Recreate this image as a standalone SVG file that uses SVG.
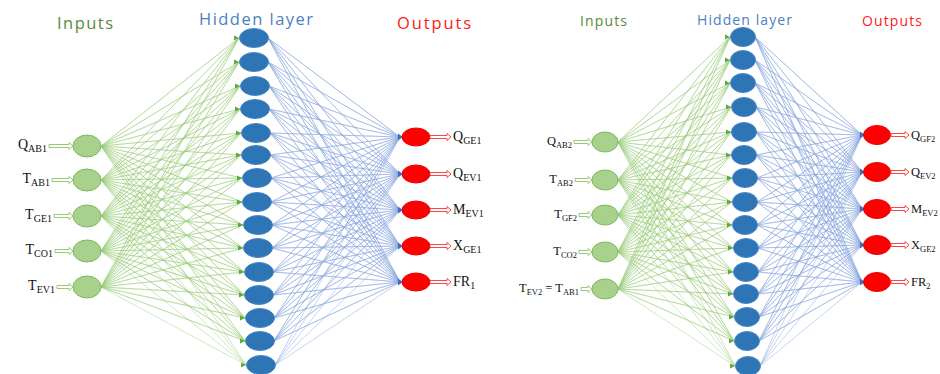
<svg xmlns="http://www.w3.org/2000/svg" xmlns:xlink="http://www.w3.org/1999/xlink" width="940" height="374" viewBox="0 0 940 374">
<style>
.t{font-family:"Open Sans",Lato,"Liberation Sans",sans-serif}
.ti{fill:#5a8a3a}.th{fill:#4a80c2}.to{fill:#ff1a1a}
.g{fill:none;stroke:#9ccd7c;stroke-width:0.55;stroke-linejoin:round;opacity:.85}
.b{fill:none;stroke:#8aa8de;stroke-width:0.55;stroke-linejoin:round;opacity:.9}
.in{fill:#a9d18e;stroke:#7db95a;stroke-width:1}
.hid{fill:#2e75b6;stroke:#4a88c8;stroke-width:1}
.out{fill:#ff0000;stroke:#e80000;stroke-width:1}
.ia{fill:#fff;stroke:#8cc468;stroke-width:0.9}
.oa{fill:#fff;stroke:#ff3030;stroke-width:0.9}
.l1{font-family:"Liberation Serif","Times New Roman",serif;font-size:14px;fill:#111}
.s1{font-size:10px}
.l2{font-family:"Liberation Serif","Times New Roman",serif;font-size:12.5px;fill:#111}
.s2{font-size:8.5px}
.ga{fill:#5fa83a}.ba{fill:#3b6fc6}
</style>
<defs>
<path id="gah" d="M-5,-2.5L0,0L-5,2.5Z"/>
<path id="bah" d="M-4,-3.5L1,0L-4,3.5Z"/>
</defs>
<g id="titles">
<text class="t ti" x="57" y="29" font-size="16.5" textLength="56" lengthAdjust="spacing">Inputs</text>
<text class="t th" x="199" y="25" font-size="16.5" textLength="114" lengthAdjust="spacing">Hidden layer</text>
<text class="t to" x="397" y="29" font-size="16.5" textLength="74" lengthAdjust="spacing">Outputs</text>
<text class="t ti" x="580" y="26" font-size="14" textLength="47" lengthAdjust="spacing">Inputs</text>
<text class="t th" x="697" y="25" font-size="14" textLength="95" lengthAdjust="spacing">Hidden layer</text>
<text class="t to" x="862" y="26" font-size="14" textLength="60" lengthAdjust="spacing">Outputs</text>
</g>
<g id="connectors">
<path class="g" d="M101 146L239 38 101 146 239 62 101 146 240 86 101 146 240 109 101 146 241 133 101 146 241 155 101 146 242 178 101 146 242 202 101 146 243 225 101 146 243 248 101 146 244 272 101 146 244 295 101 146 245 318 101 146 245 341 101 146 246 365"/>
<path class="g" d="M101 180L239 38 101 180 239 62 101 180 240 86 101 180 240 109 101 180 241 133 101 180 241 155 101 180 242 178 101 180 242 202 101 180 243 225 101 180 243 248 101 180 244 272 101 180 244 295 101 180 245 318 101 180 245 341 101 180 246 365"/>
<path class="g" d="M101 216L239 38 101 216 239 62 101 216 240 86 101 216 240 109 101 216 241 133 101 216 241 155 101 216 242 178 101 216 242 202 101 216 243 225 101 216 243 248 101 216 244 272 101 216 244 295 101 216 245 318 101 216 245 341 101 216 246 365"/>
<path class="g" d="M101 251L239 38 101 251 239 62 101 251 240 86 101 251 240 109 101 251 241 133 101 251 241 155 101 251 242 178 101 251 242 202 101 251 243 225 101 251 243 248 101 251 244 272 101 251 244 295 101 251 245 318 101 251 245 341 101 251 246 365"/>
<path class="g" d="M101 287L239 38 101 287 239 62 101 287 240 86 101 287 240 109 101 287 241 133 101 287 241 155 101 287 242 178 101 287 242 202 101 287 243 225 101 287 243 248 101 287 244 272 101 287 244 295 101 287 245 318 101 287 245 341 101 287 246 365"/>
<path class="b" d="M400 137L268 38 400 137 268 62 400 137 269 86 400 137 269 109 400 137 270 133 400 137 270 155 400 137 271 178 400 137 271 202 400 137 272 225 400 137 272 248 400 137 273 272 400 137 273 295 400 137 274 318 400 137 274 341 400 137 275 365"/>
<path class="b" d="M400 174L268 38 400 174 268 62 400 174 269 86 400 174 269 109 400 174 270 133 400 174 270 155 400 174 271 178 400 174 271 202 400 174 272 225 400 174 272 248 400 174 273 272 400 174 273 295 400 174 274 318 400 174 274 341 400 174 275 365"/>
<path class="b" d="M400 210L268 38 400 210 268 62 400 210 269 86 400 210 269 109 400 210 270 133 400 210 270 155 400 210 271 178 400 210 271 202 400 210 272 225 400 210 272 248 400 210 273 272 400 210 273 295 400 210 274 318 400 210 274 341 400 210 275 365"/>
<path class="b" d="M400 246L268 38 400 246 268 62 400 246 269 86 400 246 269 109 400 246 270 133 400 246 270 155 400 246 271 178 400 246 271 202 400 246 272 225 400 246 272 248 400 246 273 272 400 246 273 295 400 246 274 318 400 246 274 341 400 246 275 365"/>
<path class="b" d="M400 282L268 38 400 282 268 62 400 282 269 86 400 282 269 109 400 282 270 133 400 282 270 155 400 282 271 178 400 282 271 202 400 282 272 225 400 282 272 248 400 282 273 272 400 282 273 295 400 282 274 318 400 282 274 341 400 282 275 365"/>
<path class="g" d="M618 142L730 37 618 142 730 60 618 142 730 83 618 142 731 107 618 142 731 132 618 142 731 155 618 142 732 178 618 142 732 202 618 142 732 225 618 142 733 248 618 142 733 272 618 142 733 294 618 142 734 317 618 142 734 341 618 142 735 366"/>
<path class="g" d="M618 180L730 37 618 180 730 60 618 180 730 83 618 180 731 107 618 180 731 132 618 180 731 155 618 180 732 178 618 180 732 202 618 180 732 225 618 180 733 248 618 180 733 272 618 180 733 294 618 180 734 317 618 180 734 341 618 180 735 366"/>
<path class="g" d="M618 215L730 37 618 215 730 60 618 215 730 83 618 215 731 107 618 215 731 132 618 215 731 155 618 215 732 178 618 215 732 202 618 215 732 225 618 215 733 248 618 215 733 272 618 215 733 294 618 215 734 317 618 215 734 341 618 215 735 366"/>
<path class="g" d="M618 252L730 37 618 252 730 60 618 252 730 83 618 252 731 107 618 252 731 132 618 252 731 155 618 252 732 178 618 252 732 202 618 252 732 225 618 252 733 248 618 252 733 272 618 252 733 294 618 252 734 317 618 252 734 341 618 252 735 366"/>
<path class="g" d="M618 289L730 37 618 289 730 60 618 289 730 83 618 289 731 107 618 289 731 132 618 289 731 155 618 289 732 178 618 289 732 202 618 289 732 225 618 289 733 248 618 289 733 272 618 289 733 294 618 289 734 317 618 289 734 341 618 289 735 366"/>
<path class="b" d="M862 135L755 37 862 135 755 60 862 135 755 83 862 135 756 107 862 135 756 132 862 135 756 155 862 135 757 178 862 135 757 202 862 135 757 225 862 135 758 248 862 135 758 272 862 135 758 294 862 135 759 317 862 135 759 341 862 135 760 366"/>
<path class="b" d="M862 172L755 37 862 172 755 60 862 172 755 83 862 172 756 107 862 172 756 132 862 172 756 155 862 172 757 178 862 172 757 202 862 172 757 225 862 172 758 248 862 172 758 272 862 172 758 294 862 172 759 317 862 172 759 341 862 172 760 366"/>
<path class="b" d="M862 209L755 37 862 209 755 60 862 209 755 83 862 209 756 107 862 209 756 132 862 209 756 155 862 209 757 178 862 209 757 202 862 209 757 225 862 209 758 248 862 209 758 272 862 209 758 294 862 209 759 317 862 209 759 341 862 209 760 366"/>
<path class="b" d="M862 245L755 37 862 245 755 60 862 245 755 83 862 245 756 107 862 245 756 132 862 245 756 155 862 245 757 178 862 245 757 202 862 245 757 225 862 245 758 248 862 245 758 272 862 245 758 294 862 245 759 317 862 245 759 341 862 245 760 366"/>
<path class="b" d="M862 282L755 37 862 282 755 60 862 282 755 83 862 282 756 107 862 282 756 132 862 282 756 155 862 282 757 178 862 282 757 202 862 282 757 225 862 282 758 248 862 282 758 272 862 282 758 294 862 282 759 317 862 282 759 341 862 282 760 366"/>
<g class="ga">
<use href="#gah" x="239" y="38"/><use href="#gah" x="239" y="62"/><use href="#gah" x="240" y="86"/><use href="#gah" x="240" y="109"/><use href="#gah" x="241" y="133"/><use href="#gah" x="241" y="155"/><use href="#gah" x="242" y="178"/><use href="#gah" x="242" y="202"/><use href="#gah" x="243" y="225"/><use href="#gah" x="243" y="248"/><use href="#gah" x="244" y="272"/><use href="#gah" x="244" y="295"/><use href="#gah" x="245" y="318"/><use href="#gah" x="245" y="341"/><use href="#gah" x="246" y="365"/>
<use href="#gah" x="730" y="37"/><use href="#gah" x="730" y="60"/><use href="#gah" x="730" y="83"/><use href="#gah" x="731" y="107"/><use href="#gah" x="731" y="132"/><use href="#gah" x="731" y="155"/><use href="#gah" x="732" y="178"/><use href="#gah" x="732" y="202"/><use href="#gah" x="732" y="225"/><use href="#gah" x="733" y="248"/><use href="#gah" x="733" y="272"/><use href="#gah" x="733" y="294"/><use href="#gah" x="734" y="317"/><use href="#gah" x="734" y="341"/><use href="#gah" x="735" y="366"/>
</g>
<g class="ba">
<use href="#bah" x="402" y="137"/><use href="#bah" x="402" y="174"/><use href="#bah" x="402" y="210"/><use href="#bah" x="402" y="246"/><use href="#bah" x="402" y="282"/>
<use href="#bah" x="864" y="135"/><use href="#bah" x="864" y="172"/><use href="#bah" x="864" y="209"/><use href="#bah" x="864" y="245"/><use href="#bah" x="864" y="282"/>
</g>
</g>
<!-- Left panel inputs -->
<g id="in1a"><ellipse class="in" cx="87" cy="146" rx="14" ry="11"/><path class="ia" d="M49 144.5H69V142.5L73 146L69 149.5V147.5H49Z"/><text class="l1" x="47" y="149" text-anchor="end">Q<tspan class="s1" dy="3">AB1</tspan></text></g>
<g id="in2a"><ellipse class="in" cx="87" cy="180" rx="14" ry="11"/><path class="ia" d="M52 178.5H69V176.5L73 180L69 183.5V181.5H52Z"/><text class="l1" x="50" y="183" text-anchor="end">T<tspan class="s1" dy="3">AB1</tspan></text></g>
<g id="in3a"><ellipse class="in" cx="87" cy="216" rx="14" ry="11"/><path class="ia" d="M54 214.5H69V212.5L73 216L69 219.5V217.5H54Z"/><text class="l1" x="52" y="219" text-anchor="end">T<tspan class="s1" dy="3">GE1</tspan></text></g>
<g id="in4a"><ellipse class="in" cx="87" cy="251" rx="14" ry="11"/><path class="ia" d="M55 249.5H69V247.5L73 251L69 254.5V252.5H55Z"/><text class="l1" x="53" y="254" text-anchor="end">T<tspan class="s1" dy="3">CO1</tspan></text></g>
<g id="in5a"><ellipse class="in" cx="87" cy="287" rx="14" ry="11"/><path class="ia" d="M57 285.5H69V283.5L73 287L69 290.5V288.5H57Z"/><text class="l1" x="55" y="290" text-anchor="end">T<tspan class="s1" dy="3">EV1</tspan></text></g>
<!-- Left hidden -->
<g id="hidden-a">
<g id="h1a"><ellipse class="hid" cx="254" cy="38" rx="14.5" ry="9.5"/></g>
<g id="h2a"><ellipse class="hid" cx="254" cy="62" rx="14.5" ry="9.5"/></g>
<g id="h3a"><ellipse class="hid" cx="255" cy="86" rx="14.5" ry="9.5"/></g>
<g id="h4a"><ellipse class="hid" cx="255" cy="109" rx="14.5" ry="9.5"/></g>
<g id="h5a"><ellipse class="hid" cx="256" cy="133" rx="14.5" ry="9.5"/></g>
<g id="h6a"><ellipse class="hid" cx="256" cy="155" rx="14.5" ry="9.5"/></g>
<g id="h7a"><ellipse class="hid" cx="257" cy="178" rx="14.5" ry="9.5"/></g>
<g id="h8a"><ellipse class="hid" cx="257" cy="202" rx="14.5" ry="9.5"/></g>
<g id="h9a"><ellipse class="hid" cx="258" cy="225" rx="14.5" ry="9.5"/></g>
<g id="h10a"><ellipse class="hid" cx="258" cy="248" rx="14.5" ry="9.5"/></g>
<g id="h11a"><ellipse class="hid" cx="259" cy="272" rx="14.5" ry="9.5"/></g>
<g id="h12a"><ellipse class="hid" cx="259" cy="295" rx="14.5" ry="9.5"/></g>
<g id="h13a"><ellipse class="hid" cx="260" cy="318" rx="14.5" ry="9.5"/></g>
<g id="h14a"><ellipse class="hid" cx="260" cy="341" rx="14.5" ry="9.5"/></g>
<g id="h15a"><ellipse class="hid" cx="261" cy="365" rx="14.5" ry="9.5"/></g>
</g>
<!-- Left outputs -->
<g id="o1a"><ellipse class="out" cx="416" cy="137" rx="14" ry="9"/><path class="oa" d="M430 135.5H447V133.5L451 137L447 140.5V138.5H430Z"/><text class="l1" x="453" y="141" font-size="15">Q<tspan class="s1" dy="3">GE1</tspan></text></g>
<g id="o2a"><ellipse class="out" cx="416" cy="174" rx="14" ry="9"/><path class="oa" d="M430 172.5H447V170.5L451 174L447 177.5V175.5H430Z"/><text class="l1" x="453" y="178" font-size="15">Q<tspan class="s1" dy="3">EV1</tspan></text></g>
<g id="o3a"><ellipse class="out" cx="416" cy="210" rx="14" ry="9"/><path class="oa" d="M430 208.5H447V206.5L451 210L447 213.5V211.5H430Z"/><text class="l1" x="453" y="214" font-size="15">M<tspan class="s1" dy="3">EV1</tspan></text></g>
<g id="o4a"><ellipse class="out" cx="416" cy="246" rx="14" ry="9"/><path class="oa" d="M430 244.5H447V242.5L451 246L447 249.5V247.5H430Z"/><text class="l1" x="453" y="250" font-size="15">X<tspan class="s1" dy="3">GE1</tspan></text></g>
<g id="o5a"><ellipse class="out" cx="416" cy="282" rx="14" ry="9"/><path class="oa" d="M430 280.5H447V278.5L451 282L447 285.5V283.5H430Z"/><text class="l1" x="453" y="286" font-size="15">FR<tspan class="s1" dy="3">1</tspan></text></g>
<!-- Right panel inputs -->
<g id="in1b"><ellipse class="in" cx="605" cy="142" rx="13" ry="10"/><path class="ia" d="M574 140.5H588V138.5L592 142L588 145.5V143.5H574Z"/><text class="l2" x="572" y="145" text-anchor="end">Q<tspan class="s2" dy="3">AB2</tspan></text></g>
<g id="in2b"><ellipse class="in" cx="605" cy="180" rx="13" ry="10"/><path class="ia" d="M575 178.5H588V176.5L592 180L588 183.5V181.5H575Z"/><text class="l2" x="573" y="183" text-anchor="end">T<tspan class="s2" dy="3">AB2</tspan></text></g>
<g id="in3b"><ellipse class="in" cx="605" cy="215" rx="13" ry="10"/><path class="ia" d="M579 213.5H588V211.5L592 215L588 218.5V216.5H579Z"/><text class="l2" x="577" y="218" text-anchor="end">T<tspan class="s2" dy="3">GF2</tspan></text></g>
<g id="in4b"><ellipse class="in" cx="605" cy="252" rx="13" ry="10"/><path class="ia" d="M579 250.5H588V248.5L592 252L588 255.5V253.5H579Z"/><text class="l2" x="577" y="255" text-anchor="end">T<tspan class="s2" dy="3">CO2</tspan></text></g>
<g id="in5b"><ellipse class="in" cx="605" cy="289" rx="13" ry="10"/><path class="ia" d="M581 287.5H588V285.5L592 289L588 292.5V290.5H581Z"/><text class="l2" x="579" y="292" text-anchor="end">T<tspan class="s2" dy="3">EV2</tspan><tspan dy="-3"> = T</tspan><tspan class="s2" dy="3">AB1</tspan></text></g>
<!-- Right hidden -->
<g id="hidden-b">
<g id="h1b"><ellipse class="hid" cx="743" cy="37" rx="12.5" ry="9.5"/></g>
<g id="h2b"><ellipse class="hid" cx="743" cy="60" rx="12.5" ry="9.5"/></g>
<g id="h3b"><ellipse class="hid" cx="743" cy="83" rx="12.5" ry="9.5"/></g>
<g id="h4b"><ellipse class="hid" cx="744" cy="107" rx="12.5" ry="9.5"/></g>
<g id="h5b"><ellipse class="hid" cx="744" cy="132" rx="12.5" ry="9.5"/></g>
<g id="h6b"><ellipse class="hid" cx="744" cy="155" rx="12.5" ry="9.5"/></g>
<g id="h7b"><ellipse class="hid" cx="745" cy="178" rx="12.5" ry="9.5"/></g>
<g id="h8b"><ellipse class="hid" cx="745" cy="202" rx="12.5" ry="9.5"/></g>
<g id="h9b"><ellipse class="hid" cx="745" cy="225" rx="12.5" ry="9.5"/></g>
<g id="h10b"><ellipse class="hid" cx="746" cy="248" rx="12.5" ry="9.5"/></g>
<g id="h11b"><ellipse class="hid" cx="746" cy="272" rx="12.5" ry="9.5"/></g>
<g id="h12b"><ellipse class="hid" cx="746" cy="294" rx="12.5" ry="9.5"/></g>
<g id="h13b"><ellipse class="hid" cx="747" cy="317" rx="12.5" ry="9.5"/></g>
<g id="h14b"><ellipse class="hid" cx="747" cy="341" rx="12.5" ry="9.5"/></g>
<g id="h15b"><ellipse class="hid" cx="748" cy="366" rx="12.5" ry="9.5"/></g>
</g>
<!-- Right outputs -->
<g id="o1b"><ellipse class="out" cx="877" cy="135" rx="13.5" ry="9.5"/><path class="oa" d="M891 133.5H905V131.5L909 135L905 138.5V136.5H891Z"/><text class="l2" x="911" y="139">Q<tspan class="s2" dy="2.5">GF2</tspan></text></g>
<g id="o2b"><ellipse class="out" cx="877" cy="172" rx="13.5" ry="9.5"/><path class="oa" d="M891 170.5H905V168.5L909 172L905 175.5V173.5H891Z"/><text class="l2" x="911" y="176">Q<tspan class="s2" dy="2.5">EV2</tspan></text></g>
<g id="o3b"><ellipse class="out" cx="877" cy="209" rx="13.5" ry="9.5"/><path class="oa" d="M891 207.5H905V205.5L909 209L905 212.5V210.5H891Z"/><text class="l2" x="911" y="213">M<tspan class="s2" dy="2.5">EV2</tspan></text></g>
<g id="o4b"><ellipse class="out" cx="877" cy="245" rx="13.5" ry="9.5"/><path class="oa" d="M891 243.5H905V241.5L909 245L905 248.5V246.5H891Z"/><text class="l2" x="911" y="249">X<tspan class="s2" dy="2.5">GE2</tspan></text></g>
<g id="o5b"><ellipse class="out" cx="877" cy="282" rx="13.5" ry="9.5"/><path class="oa" d="M891 280.5H905V278.5L909 282L905 285.5V283.5H891Z"/><text class="l2" x="911" y="286">FR<tspan class="s2" dy="2.5">2</tspan></text></g>
</svg>
